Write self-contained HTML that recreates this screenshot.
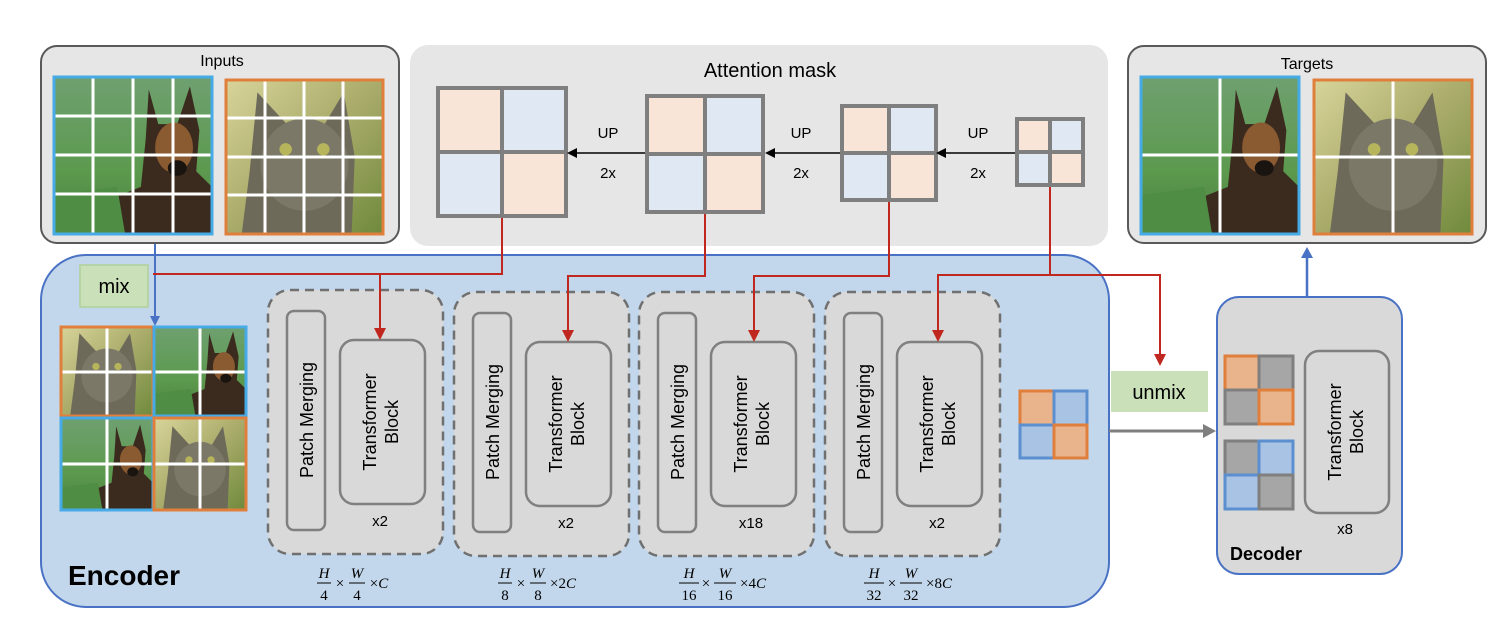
<!DOCTYPE html>
<html><head><meta charset="utf-8"><style>
html,body{margin:0;padding:0;background:#fff;}
svg{display:block;font-family:"Liberation Sans",sans-serif;}
</style></head><body>
<svg width="1503" height="624" viewBox="0 0 1503 624" xmlns="http://www.w3.org/2000/svg">
<defs>
<linearGradient id="gd" x1="0" y1="0" x2="0" y2="1"><stop offset="0" stop-color="#6fa070"/><stop offset="0.6" stop-color="#5c9a4e"/><stop offset="1" stop-color="#4d7f40"/></linearGradient>
<linearGradient id="gc" x1="0" y1="0" x2="1" y2="1"><stop offset="0" stop-color="#d8d49a"/><stop offset="0.5" stop-color="#a9ab6a"/><stop offset="1" stop-color="#6f8a3c"/></linearGradient>
<symbol id="dog" viewBox="0 0 100 100" preserveAspectRatio="none">
<rect width="100" height="100" fill="url(#gd)"/>
<path d="M60 8 L66 30 L78 30 L86 6 L92 34 L90 60 L100 70 L100 100 L40 100 L30 80 L55 70 L58 40 Z" fill="#3b2a1e"/>
<ellipse cx="76" cy="45" rx="12" ry="16" fill="#8a5a30"/>
<ellipse cx="78" cy="58" rx="6" ry="5" fill="#1a1410"/>
<path d="M0 75 L40 70 L45 100 L0 100Z" fill="#4f8d45"/>
</symbol>
<symbol id="cat" viewBox="0 0 100 100" preserveAspectRatio="none">
<rect width="100" height="100" fill="url(#gc)"/>
<path d="M15 60 L20 8 L40 30 L62 30 L75 8 L82 50 L80 100 L10 100Z" fill="#6d6a5a"/>
<ellipse cx="50" cy="55" rx="28" ry="30" fill="#7b7868"/>
<circle cx="38" cy="45" r="4" fill="#b6b55c"/><circle cx="62" cy="45" r="4" fill="#b6b55c"/>
</symbol>
</defs>

<!-- Inputs -->
<rect x="41" y="46" width="358" height="197" rx="16" fill="#e6e6e6" stroke="#595959" stroke-width="2"/>
<text x="222" y="66" font-size="16" text-anchor="middle">Inputs</text>
<use href="#dog" x="54" y="77" width="158" height="157"/>
<g stroke="#fff" stroke-width="3"><line x1="93" y1="77" x2="93" y2="234"/><line x1="133" y1="77" x2="133" y2="234"/><line x1="173" y1="77" x2="173" y2="234"/><line x1="54" y1="116" x2="212" y2="116"/><line x1="54" y1="155" x2="212" y2="155"/><line x1="54" y1="194" x2="212" y2="194"/></g>
<rect x="54" y="77" width="158" height="157" fill="none" stroke="#45aae6" stroke-width="3"/>
<use href="#cat" x="226" y="80" width="157" height="154"/>
<g stroke="#fff" stroke-width="3"><line x1="265" y1="80" x2="265" y2="234"/><line x1="304" y1="80" x2="304" y2="234"/><line x1="343" y1="80" x2="343" y2="234"/><line x1="226" y1="118" x2="383" y2="118"/><line x1="226" y1="157" x2="383" y2="157"/><line x1="226" y1="195" x2="383" y2="195"/></g>
<rect x="226" y="80" width="157" height="154" fill="none" stroke="#e07f3c" stroke-width="3"/>

<!-- Attention mask panel -->
<rect x="410" y="45" width="698" height="201" rx="18" fill="#e6e6e6"/>
<text x="770" y="77" font-size="20" text-anchor="middle">Attention mask</text>
<g stroke="#7f7f7f" stroke-width="4">
<rect x="438" y="88" width="64" height="64" fill="#f8e5d8"/><rect x="502" y="88" width="64" height="64" fill="#dfe8f3"/><rect x="438" y="152" width="64" height="64" fill="#dfe8f3"/><rect x="502" y="152" width="64" height="64" fill="#f8e5d8"/>
<rect x="647" y="96" width="58" height="58" fill="#f8e5d8"/><rect x="705" y="96" width="58" height="58" fill="#dfe8f3"/><rect x="647" y="154" width="58" height="58" fill="#dfe8f3"/><rect x="705" y="154" width="58" height="58" fill="#f8e5d8"/>
<rect x="842" y="106" width="47" height="47" fill="#f8e5d8"/><rect x="889" y="106" width="47" height="47" fill="#dfe8f3"/><rect x="842" y="153" width="47" height="47" fill="#dfe8f3"/><rect x="889" y="153" width="47" height="47" fill="#f8e5d8"/>
<rect x="1017" y="119" width="33" height="33" fill="#f8e5d8"/><rect x="1050" y="119" width="33" height="33" fill="#dfe8f3"/><rect x="1017" y="152" width="33" height="33" fill="#dfe8f3"/><rect x="1050" y="152" width="33" height="33" fill="#f8e5d8"/>
</g>
<g stroke="#000" stroke-width="1.5"><line x1="1015" y1="153" x2="944" y2="153"/><line x1="840" y1="153" x2="773" y2="153"/><line x1="645" y1="153" x2="576" y2="153"/></g>
<g fill="#000"><path d="M936 153 L946 148 L946 158Z"/><path d="M765 153 L775 148 L775 158Z"/><path d="M567 153 L577 148 L577 158Z"/></g>
<g font-size="15" text-anchor="middle"><text x="978" y="138">UP</text><text x="978" y="178">2x</text><text x="801" y="138">UP</text><text x="801" y="178">2x</text><text x="608" y="138">UP</text><text x="608" y="178">2x</text></g>

<!-- Targets -->
<rect x="1128" y="46" width="358" height="197" rx="16" fill="#e6e6e6" stroke="#595959" stroke-width="2"/>
<text x="1307" y="69" font-size="16" text-anchor="middle">Targets</text>
<use href="#dog" x="1141" y="77" width="158" height="157"/>
<g stroke="#fff" stroke-width="3"><line x1="1220" y1="77" x2="1220" y2="234"/><line x1="1141" y1="155" x2="1299" y2="155"/></g>
<rect x="1141" y="77" width="158" height="157" fill="none" stroke="#45aae6" stroke-width="3"/>
<use href="#cat" x="1314" y="80" width="158" height="154"/>
<g stroke="#fff" stroke-width="3"><line x1="1393" y1="80" x2="1393" y2="234"/><line x1="1314" y1="157" x2="1472" y2="157"/></g>
<rect x="1314" y="80" width="158" height="154" fill="none" stroke="#e07f3c" stroke-width="3"/>

<!-- Encoder -->
<rect x="41" y="255" width="1068" height="352" rx="45" fill="#c2d7ec" stroke="#4a72c4" stroke-width="2"/>
<text x="68" y="585" font-size="28" font-weight="bold">Encoder</text>
<rect x="80" y="265" width="68" height="42" fill="#c9e0b8" stroke="#b0d09a" stroke-width="1.5"/>
<text x="114" y="293" font-size="20" text-anchor="middle">mix</text>

<!-- mixed grid -->
<use href="#cat" x="61" y="326" width="92" height="90"/>
<use href="#dog" x="154" y="326" width="92" height="90"/>
<use href="#dog" x="61" y="419" width="92" height="91"/>
<use href="#cat" x="154" y="419" width="92" height="91"/>
<g stroke="#fff" stroke-width="3"><line x1="107" y1="326" x2="107" y2="510"/><line x1="200" y1="326" x2="200" y2="510"/><line x1="61" y1="372" x2="246" y2="372"/><line x1="61" y1="464" x2="246" y2="464"/></g>
<g fill="none" stroke-width="3"><rect x="61" y="327" width="92" height="89" stroke="#e07f3c"/><rect x="154" y="327" width="92" height="89" stroke="#45aae6"/><rect x="61" y="418" width="92" height="92" stroke="#45aae6"/><rect x="154" y="418" width="92" height="92" stroke="#e07f3c"/></g>
<line x1="155" y1="244" x2="155" y2="318" stroke="#4a72c4" stroke-width="2"/>
<path d="M155 326 L150 316 L160 316Z" fill="#4a72c4"/>

<!-- stages -->
<g>
<rect x="268" y="290" width="175" height="264" rx="22" fill="#d9d9d9" stroke="#707070" stroke-width="2.5" stroke-dasharray="9 6"/>
<rect x="287" y="311" width="38" height="219" rx="7" fill="#d9d9d9" stroke="#808080" stroke-width="2.5"/>
<rect x="340" y="340" width="85" height="164" rx="14" fill="#d9d9d9" stroke="#808080" stroke-width="2.5"/>
<text transform="translate(313,420) rotate(-90)" font-size="18" text-anchor="middle">Patch Merging</text>
<text transform="translate(376,422) rotate(-90)" font-size="18" text-anchor="middle">Transformer</text>
<text transform="translate(398,422) rotate(-90)" font-size="18" text-anchor="middle">Block</text>
<text x="380" y="526" font-size="15" text-anchor="middle">x2</text>
</g>
<g transform="translate(186,2)">
<rect x="268" y="290" width="175" height="264" rx="22" fill="#d9d9d9" stroke="#707070" stroke-width="2.5" stroke-dasharray="9 6"/>
<rect x="287" y="311" width="38" height="219" rx="7" fill="#d9d9d9" stroke="#808080" stroke-width="2.5"/>
<rect x="340" y="340" width="85" height="164" rx="14" fill="#d9d9d9" stroke="#808080" stroke-width="2.5"/>
<text transform="translate(313,420) rotate(-90)" font-size="18" text-anchor="middle">Patch Merging</text>
<text transform="translate(376,422) rotate(-90)" font-size="18" text-anchor="middle">Transformer</text>
<text transform="translate(398,422) rotate(-90)" font-size="18" text-anchor="middle">Block</text>
<text x="380" y="526" font-size="15" text-anchor="middle">x2</text>
</g>
<g transform="translate(371,2)">
<rect x="268" y="290" width="175" height="264" rx="22" fill="#d9d9d9" stroke="#707070" stroke-width="2.5" stroke-dasharray="9 6"/>
<rect x="287" y="311" width="38" height="219" rx="7" fill="#d9d9d9" stroke="#808080" stroke-width="2.5"/>
<rect x="340" y="340" width="85" height="164" rx="14" fill="#d9d9d9" stroke="#808080" stroke-width="2.5"/>
<text transform="translate(313,420) rotate(-90)" font-size="18" text-anchor="middle">Patch Merging</text>
<text transform="translate(376,422) rotate(-90)" font-size="18" text-anchor="middle">Transformer</text>
<text transform="translate(398,422) rotate(-90)" font-size="18" text-anchor="middle">Block</text>
<text x="380" y="526" font-size="15" text-anchor="middle">x18</text>
</g>
<g transform="translate(557,2)">
<rect x="268" y="290" width="175" height="264" rx="22" fill="#d9d9d9" stroke="#707070" stroke-width="2.5" stroke-dasharray="9 6"/>
<rect x="287" y="311" width="38" height="219" rx="7" fill="#d9d9d9" stroke="#808080" stroke-width="2.5"/>
<rect x="340" y="340" width="85" height="164" rx="14" fill="#d9d9d9" stroke="#808080" stroke-width="2.5"/>
<text transform="translate(313,420) rotate(-90)" font-size="18" text-anchor="middle">Patch Merging</text>
<text transform="translate(376,422) rotate(-90)" font-size="18" text-anchor="middle">Transformer</text>
<text transform="translate(398,422) rotate(-90)" font-size="18" text-anchor="middle">Block</text>
<text x="380" y="526" font-size="15" text-anchor="middle">x2</text>
</g>

<!-- formulas -->
<g font-family="Liberation Serif,serif" font-style="italic" font-size="15" text-anchor="middle">
<g><text x="324" y="578">H</text><text x="324" y="600" font-style="normal">4</text><line x1="317" y1="583" x2="331" y2="583" stroke="#000"/><text x="340" y="588" font-style="normal">×</text><text x="357" y="578">W</text><text x="357" y="600" font-style="normal">4</text><line x1="349" y1="583" x2="365" y2="583" stroke="#000"/><text x="379" y="588"><tspan font-style="normal">×</tspan>C</text></g>
<g><text x="505" y="578">H</text><text x="505" y="600" font-style="normal">8</text><line x1="498" y1="583" x2="512" y2="583" stroke="#000"/><text x="521" y="588" font-style="normal">×</text><text x="538" y="578">W</text><text x="538" y="600" font-style="normal">8</text><line x1="530" y1="583" x2="546" y2="583" stroke="#000"/><text x="563" y="588"><tspan font-style="normal">×2</tspan>C</text></g>
<g><text x="689" y="578">H</text><text x="689" y="600" font-style="normal">16</text><line x1="679" y1="583" x2="699" y2="583" stroke="#000"/><text x="706" y="588" font-style="normal">×</text><text x="725" y="578">W</text><text x="725" y="600" font-style="normal">16</text><line x1="714" y1="583" x2="736" y2="583" stroke="#000"/><text x="753" y="588"><tspan font-style="normal">×4</tspan>C</text></g>
<g><text x="874" y="578">H</text><text x="874" y="600" font-style="normal">32</text><line x1="864" y1="583" x2="884" y2="583" stroke="#000"/><text x="892" y="588" font-style="normal">×</text><text x="911" y="578">W</text><text x="911" y="600" font-style="normal">32</text><line x1="900" y1="583" x2="922" y2="583" stroke="#000"/><text x="939" y="588"><tspan font-style="normal">×8</tspan>C</text></g>
</g>

<!-- red connectors -->
<g fill="none" stroke="#c0281f" stroke-width="2">
<polyline points="502,218 502,274 153,274"/>
<polyline points="380,274 380,330"/>
<polyline points="705,214 705,276 568,276 568,332"/>
<polyline points="889,202 889,276 754,276 754,332"/>
<polyline points="1050,187 1050,275 938,275 938,332"/>
<polyline points="1050,275 1160,275 1160,356"/>
</g>
<g fill="#c0281f">
<path d="M380 340 L374 328 L386 328Z"/>
<path d="M568 342 L562 330 L574 330Z"/>
<path d="M754 342 L748 330 L760 330Z"/>
<path d="M938 342 L932 330 L944 330Z"/>
<path d="M1160 366 L1154 354 L1166 354Z"/>
</g>

<!-- small squares in encoder -->
<g stroke-width="3">
<rect x="1020" y="391" width="34" height="34" fill="#e9b48b" stroke="#e07f3c"/><rect x="1054" y="391" width="33" height="34" fill="#a8c3e3" stroke="#5b8fd0"/>
<rect x="1020" y="425" width="34" height="33" fill="#a8c3e3" stroke="#5b8fd0"/><rect x="1054" y="425" width="33" height="33" fill="#e9b48b" stroke="#e07f3c"/>
</g>

<!-- unmix -->
<rect x="1111" y="371" width="97" height="41" fill="#c9e0b8"/>
<text x="1159" y="399" font-size="20" text-anchor="middle">unmix</text>
<line x1="1109" y1="431" x2="1206" y2="431" stroke="#7f7f7f" stroke-width="3"/>
<path d="M1216 431 L1203 424 L1203 438Z" fill="#7f7f7f"/>

<!-- Decoder -->
<rect x="1217" y="297" width="185" height="277" rx="22" fill="#d9d9d9" stroke="#4a72c4" stroke-width="2"/>
<line x1="1307" y1="296" x2="1307" y2="256" stroke="#4a72c4" stroke-width="2.5"/>
<path d="M1307 247 L1301 258 L1313 258Z" fill="#4a72c4"/>
<g stroke-width="3">
<rect x="1225" y="356" width="34" height="34" fill="#e9b48b" stroke="#e07f3c"/><rect x="1259" y="356" width="34" height="34" fill="#a6a6a6" stroke="#7f7f7f"/>
<rect x="1225" y="390" width="34" height="34" fill="#a6a6a6" stroke="#7f7f7f"/><rect x="1259" y="390" width="34" height="34" fill="#e9b48b" stroke="#e07f3c"/>
<rect x="1225" y="441" width="34" height="34" fill="#a6a6a6" stroke="#7f7f7f"/><rect x="1259" y="441" width="34" height="34" fill="#a8c3e3" stroke="#5b8fd0"/>
<rect x="1225" y="475" width="34" height="34" fill="#a8c3e3" stroke="#5b8fd0"/><rect x="1259" y="475" width="34" height="34" fill="#a6a6a6" stroke="#7f7f7f"/>
</g>
<rect x="1305" y="351" width="84" height="162" rx="14" fill="#d9d9d9" stroke="#808080" stroke-width="2.5"/>
<text transform="translate(1341,432) rotate(-90)" font-size="18" text-anchor="middle">Transformer</text>
<text transform="translate(1363,432) rotate(-90)" font-size="18" text-anchor="middle">Block</text>
<text x="1345" y="534" font-size="15" text-anchor="middle">x8</text>
<text x="1230" y="560" font-size="18" font-weight="bold">Decoder</text>
</svg>
</body></html>
